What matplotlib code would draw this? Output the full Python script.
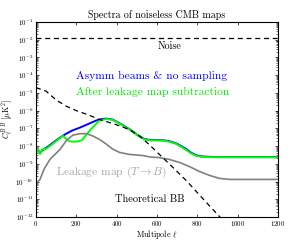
import numpy as np
import matplotlib
matplotlib.use("Agg")
import matplotlib.pyplot as plt
from matplotlib.ticker import LogLocator, NullFormatter

plt.rcParams['font.family'] = ['cmr10', 'DejaVu Serif']
plt.rcParams['mathtext.fontset'] = 'cm'
plt.rcParams['axes.formatter.use_mathtext'] = True

# Asymmetric beams & no sampling (log10 C_l)
ell_blue = [0, 10, 20, 30, 50, 80, 119, 150, 180, 217, 260, 300, 330, 350, 380, 420, 464, 500, 538, 570, 600, 630, 660, 696, 720, 745, 770, 795, 820, 850, 900, 1000, 1100, 1200]
log_blue = [-8.35, -8.2, -8.4, -8.25, -8.1, -7.85, -7.52, -7.3, -7.12, -6.96, -6.75, -6.55, -6.47, -6.45, -6.5, -6.75, -7.05, -7.35, -7.6, -7.66, -7.66, -7.67, -7.72, -7.85, -8.0, -8.17, -8.38, -8.52, -8.58, -8.6, -8.62, -8.62, -8.62, -8.62]

# After leakage map subtraction
ell_green = [0, 10, 20, 30, 50, 80, 119, 133, 150, 165, 180, 210, 230, 250, 280, 316, 350, 380, 420, 464, 500, 538, 570, 600, 630, 660, 696, 720, 745, 770, 795, 820, 850, 900, 1000, 1100, 1200]
log_green = [-8.4, -8.15, -8.45, -8.2, -8.15, -7.9, -7.55, -7.42, -7.6, -7.72, -7.75, -7.74, -7.65, -7.35, -6.95, -6.55, -6.47, -6.52, -6.77, -7.07, -7.37, -7.62, -7.68, -7.68, -7.69, -7.75, -7.88, -8.04, -8.22, -8.42, -8.55, -8.6, -8.62, -8.63, -8.63, -8.63, -8.63]

# Leakage map (T -> B)
ell_leak = [0, 10, 20, 40, 69, 119, 150, 183, 217, 250, 280, 316, 350, 380, 415, 464, 528, 570, 612, 660, 711, 760, 810, 860, 909, 960, 1007, 1100, 1200]
log_leak = [-10.2, -10.0, -9.88, -9.3, -8.75, -8.19, -7.7, -7.38, -7.3, -7.3, -7.42, -7.63, -7.9, -8.17, -8.36, -8.47, -8.53, -8.62, -8.65, -8.75, -8.92, -9.15, -9.43, -9.65, -9.82, -9.88, -9.88, -9.88, -9.88]

# Theoretical BB
ell_th = [0, 50, 100, 150, 200, 250, 316, 400, 464, 516, 560, 612, 674, 750, 830, 912, 950]
log_th = [-4.7, -4.9, -5.4, -5.75, -6.0, -6.2, -6.5, -6.8, -7.07, -7.46, -7.9, -8.47, -9.15, -10.0, -11.0, -12.0, -12.5]

noise_level = 1.3e-2

fig = plt.figure(figsize=(2.91, 2.40), dpi=100)
ax = fig.add_axes([0.1237, 0.0958, 0.8316, 0.8125])

ax.plot(ell_blue, 10**np.array(log_blue), color=(0, 0, 1), lw=1.4)
ax.plot(ell_green, 10**np.array(log_green), color=(0, 1, 0), lw=1.4)
ax.plot(ell_leak, 10**np.array(log_leak), color=(0.5, 0.5, 0.5), lw=1.2)
ax.plot(ell_th, 10**np.array(log_th), color='k', lw=0.9, ls=(0, (4, 3)))
ax.axhline(noise_level, color='k', lw=0.9, ls=(0, (4, 3)))

ax.set_yscale('log')
ax.set_xlim(0, 1200)
ax.set_ylim(1e-12, 1e-1)
ax.set_xticks([0, 200, 400, 600, 800, 1000, 1200])
ax.yaxis.set_major_locator(LogLocator(base=10, numticks=20))
ax.yaxis.set_minor_locator(LogLocator(base=10, subs=np.arange(2, 10), numticks=20))
ax.yaxis.set_minor_formatter(NullFormatter())
ax.tick_params(which='both', direction='in', top=True, right=True, labelsize=5.0, pad=2)
ax.tick_params(axis='x', pad=1.5)
ax.tick_params(which='major', length=2.5, width=0.5)
ax.tick_params(which='minor', length=1.2, width=0.4)
for s in ax.spines.values():
    s.set_linewidth(0.8)

ax.set_title('Spectra of noiseless CMB maps', fontsize=7.2, pad=3)
ax.set_xlabel(r'Multipole $\ell$', fontsize=5.8, va='center')
ax.xaxis.set_label_coords(0.5, -0.09)
ax.set_ylabel(r'$C_\ell^{B\,B}$ [$\mu$K$^2$]', fontsize=5.8, labelpad=0)

ax.text(662, 10**-2.35, 'Noise', fontsize=7.2, ha='center', va='center')
ax.text(198, 10**-4.03, 'Asymm beams & no sampling', fontsize=8.3, color=(0, 0, 1), ha='left', va='center')
ax.text(198, 10**-4.93, 'After leakage map subtraction', fontsize=8.3, color=(0, 0.9, 0), ha='left', va='center')
ax.text(99, 10**-9.48, r'Leakage map $(T\rightarrow B)$', fontsize=8.3, color=(0.65, 0.65, 0.65), ha='left', va='center')
ax.text(563, 10**-11.0, 'Theoretical BB', fontsize=7.5, ha='center', va='center')

fig.savefig('out.png', dpi=100)
